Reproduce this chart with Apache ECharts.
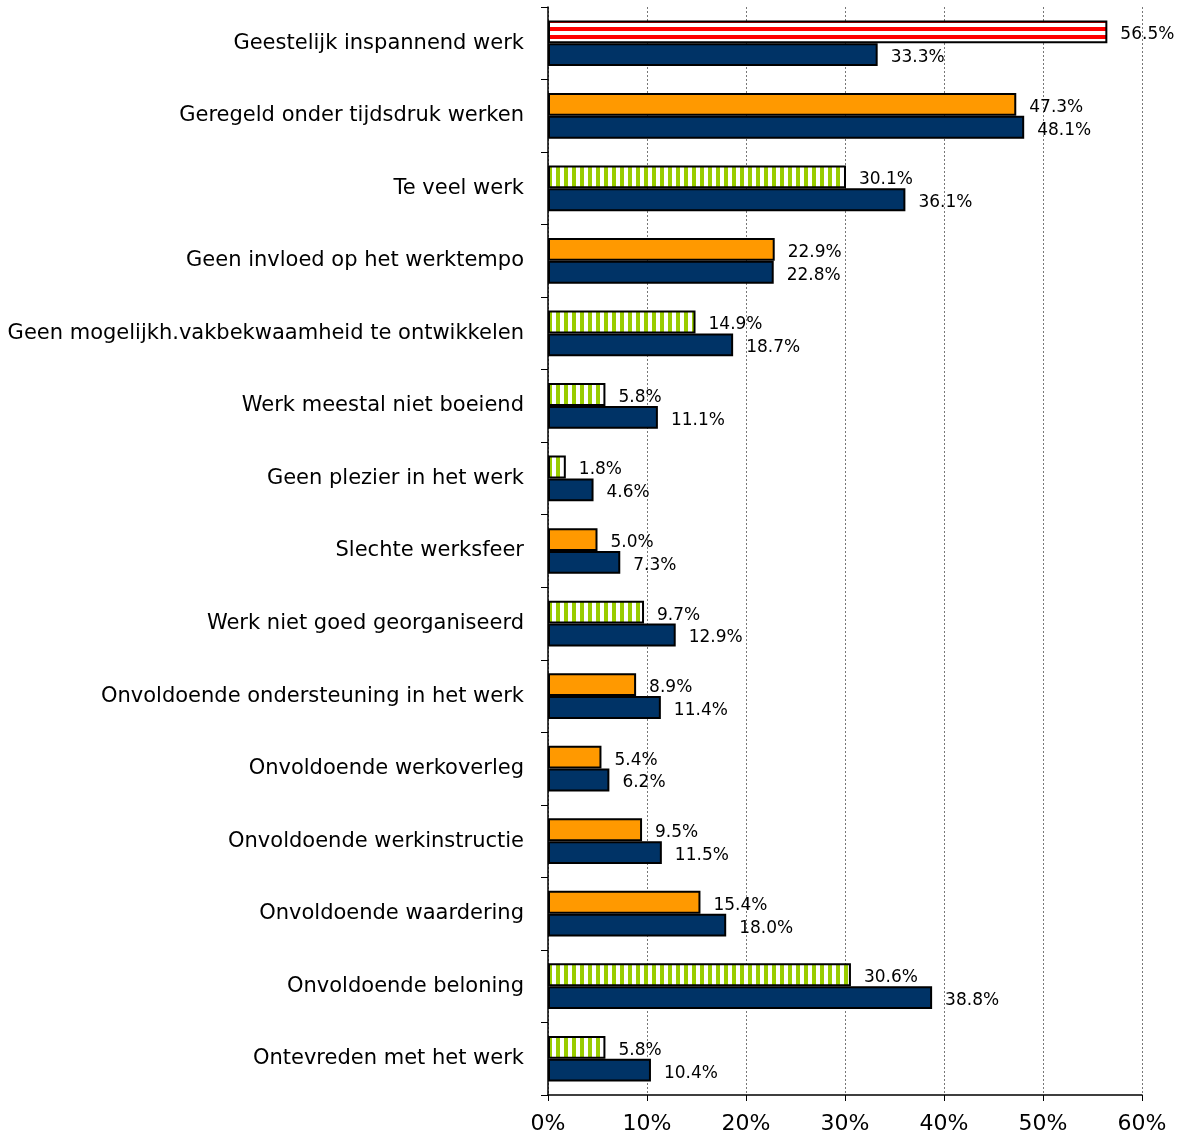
<!DOCTYPE html>
<html>
<head>
<meta charset="utf-8">
<script src="https://cdn.jsdelivr.net/npm/echarts@6/dist/echarts.min.js"></script>
<style>
  html, body { margin: 0; padding: 0; background: #fff; }
  #chart { width: 1190px; height: 1142px; }
</style>
</head>
<body>
<div id="chart"></div>
<script>
// categories, top to bottom
var categories = [
  'Geestelijk inspannend werk',
  'Geregeld onder tijdsdruk werken',
  'Te veel werk',
  'Geen invloed op het werktempo',
  'Geen mogelijkh.vakbekwaamheid te ontwikkelen',
  'Werk meestal niet boeiend',
  'Geen plezier in het werk',
  'Slechte werksfeer',
  'Werk niet goed georganiseerd',
  'Onvoldoende ondersteuning in het werk',
  'Onvoldoende werkoverleg',
  'Onvoldoende werkinstructie',
  'Onvoldoende waardering',
  'Onvoldoende beloning',
  'Ontevreden met het werk'
];
// first bar in each group
var groupValues = [56.5, 47.3, 30.1, 22.9, 14.9, 5.8, 1.8, 5.0, 9.7, 8.9, 5.4, 9.5, 15.4, 30.6, 5.8];
// second bar (benchmark)
var benchValues = [33.3, 48.1, 36.1, 22.8, 18.7, 11.1, 4.6, 7.3, 12.9, 11.4, 6.2, 11.5, 18.0, 38.8, 10.4];
// which fill the first bar gets
var groupKind = ['red', 'orange', 'green', 'orange', 'green', 'green', 'green', 'orange',
                 'green', 'orange', 'orange', 'orange', 'orange', 'green', 'green'];

function stripes(vertical, col, size, from, band) {
  var c = document.createElement('canvas');
  c.width = size; c.height = size;
  var ctx = c.getContext('2d');
  ctx.fillStyle = '#fff';
  ctx.fillRect(0, 0, size, size);
  ctx.fillStyle = col;
  if (vertical) ctx.fillRect(from, 0, band, size);
  else ctx.fillRect(0, from, size, band);
  return { image: c, repeat: 'repeat' };
}

var fills = {
  red: stripes(false, '#ff0000', 8, 3, 4),
  orange: '#ff9900',
  green: stripes(true, '#99cc00', 8, 4, 4)
};

var font = 'Tahoma, "DejaVu Sans", sans-serif';

var myChart = echarts.init(document.getElementById('chart'));

var labelOpt = {
  show: true,
  position: 'right',
  distance: 13,
  offset: [0, 3],
  color: '#000',
  fontFamily: font,
  fontSize: 17,
  formatter: function (p) { return p.value.toFixed(1) + '%'; }
};

myChart.setOption({
  animation: false,
  grid: { left: 548, right: 48, top: 7, bottom: 47 },
  xAxis: {
    type: 'value',
    min: 0,
    max: 60,
    interval: 10,
    axisLine: { show: true, lineStyle: { color: '#000', width: 1.5 } },
    axisTick: { show: true, length: 6, lineStyle: { color: '#000' } },
    axisLabel: {
      formatter: '{value}%', color: '#000', fontFamily: font, fontSize: 22, margin: 18
    },
    splitLine: { show: true, lineStyle: { color: '#777', type: [2, 2], width: 1 } }
  },
  yAxis: {
    type: 'category',
    data: categories,
    inverse: true,
    axisLine: { show: true, lineStyle: { color: '#000', width: 1.5 } },
    axisTick: { show: true, length: 7, lineStyle: { color: '#000' } },
    axisLabel: {
      color: '#000', fontFamily: font, fontSize: 21, margin: 24, padding: [5, 0, 0, 0]
    }
  },
  series: [
    {
      name: 'groep',
      type: 'bar',
      barGap: '0%',
      barCategoryGap: '37%',
      data: groupValues.map(function (v, i) {
        return { value: v, itemStyle: { color: fills[groupKind[i]] } };
      }),
      itemStyle: { borderColor: '#000', borderWidth: 2 },
      label: labelOpt
    },
    {
      name: 'benchmark',
      type: 'bar',
      data: benchValues,
      itemStyle: { color: '#003366', borderColor: '#000', borderWidth: 2 },
      label: labelOpt
    }
  ]
});
</script>
</body>
</html>
